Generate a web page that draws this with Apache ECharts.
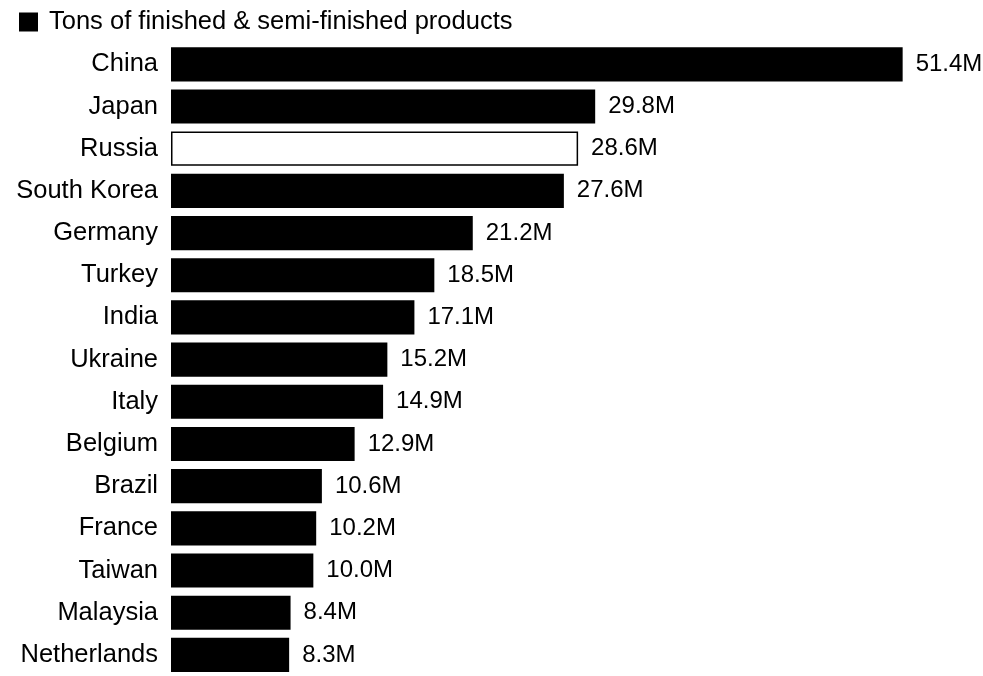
<!DOCTYPE html>
<html>
<head>
<meta charset="utf-8">
<script src="https://cdn.jsdelivr.net/npm/echarts@6/dist/echarts.min.js"></script>
<style>
html,body{margin:0;padding:0;background:#fff;}
#chart{width:983px;height:676px;}
</style>
</head>
<body>
<div id="chart"></div>
<script>
const categories = ["China","Japan","Russia","South Korea","Germany","Turkey","India","Ukraine","Italy","Belgium","Brazil","France","Taiwan","Malaysia","Netherlands"];
const values = [51.4,29.8,28.6,27.6,21.2,18.5,17.1,15.2,14.9,12.9,10.6,10.2,10.0,8.4,8.3];
const highlighted = ["Russia"];
const seriesName = "Tons of finished & semi-finished products";

const FONT = '"Liberation Sans", Arial, sans-serif';
const FS = 25.5;
const chart = echarts.init(document.getElementById('chart'));
chart.setOption({
  animation: false,
  backgroundColor: '#fff',
  legend: {
    show: true,
    left: 19, top: 9, padding: 0,
    icon: 'rect', itemWidth: 19, itemHeight: 19,
    textStyle: { fontFamily: FONT, fontSize: FS, color: '#000', padding: [0,0,0,6] },
    data: [seriesName]
  },
  grid: { left: 171, top: 43.2, width: 782.9, height: 640.5, containLabel: false },
  xAxis: { type: 'value', min: 0, max: 55, show: false },
  yAxis: {
    type: 'category', data: categories, inverse: true,
    axisLine: { show: false }, axisTick: { show: false },
    axisLabel: { fontFamily: FONT, fontSize: FS, color: '#000', margin: 13 }
  },
  series: [{
    name: seriesName,
    type: 'bar',
    barCategoryGap: '19%',
    itemStyle: { color: '#000' },
    label: {
      show: true, position: 'right', distance: 13,
      fontFamily: FONT, fontSize: 24, color: '#000',
      formatter: p => p.value.toFixed(1) + 'M'
    },
    data: values.map((v, i) => highlighted.includes(categories[i])
      ? { value: v, itemStyle: { color: '#fff', borderColor: '#000', borderWidth: 1.5 } }
      : v)
  }]
});
</script>
</body>
</html>
